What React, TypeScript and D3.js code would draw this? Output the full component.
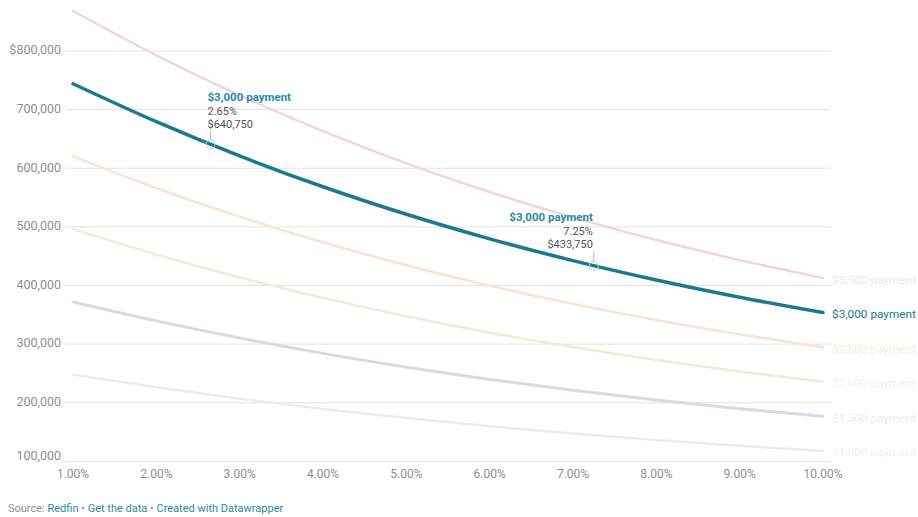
import React from "react";
import * as d3 from "d3";

const rates = [1, 2, 3, 4, 5, 6, 7, 8, 9, 10];
const pay1000 = [248060, 226490, 206990, 189480, 173830, 159880, 147480, 136450, 126660, 117940];
const pay1500 = [372090, 339735, 310485, 284220, 260745, 239820, 221220, 204675, 189990, 176910];
const pay2000 = [496120, 452980, 413980, 378960, 347660, 319760, 294960, 272900, 253320, 235880];
const pay2500 = [620150, 566225, 517475, 473700, 434575, 399700, 368700, 341125, 316650, 294850];
const pay3000 = [744180, 679470, 620970, 568440, 521490, 479640, 442440, 409350, 379980, 353820];
const pay3500 = [868210, 792715, 724465, 663180, 608405, 559580, 516180, 477575, 443310, 412790];

const seriesNames = ["$1,000 payment", "$1,500 payment", "$2,000 payment", "$2,500 payment", "$3,000 payment", "$3,500 payment"];
const yTicks = [100000, 200000, 300000, 400000, 500000, 600000, 700000, 800000];
const xTicks = [1, 2, 3, 4, 5, 6, 7, 8, 9, 10];

const annotations = [
  { rate: 2.65, value: 640750, title: "$3,000 payment", align: "start" },
  { rate: 7.25, value: 433750, title: "$3,000 payment", align: "end" },
];

const series = [
  { name: seriesNames[0], values: pay1000, color: "#ededf0", text: "#f1f1f3", w: 2.5 },
  { name: seriesNames[1], values: pay1500, color: "#dadae6", text: "#ebebf1", w: 3 },
  { name: seriesNames[2], values: pay2000, color: "#e6f0dc", text: "#f1f4e8", w: 2.5 },
  { name: seriesNames[3], values: pay2500, color: "#fce2d4", text: "#fbe9df", w: 2.5 },
  { name: seriesNames[5], values: pay3500, color: "#f3d5d9", text: "#f6e3e5", w: 2.5 },
  { name: seriesNames[4], values: pay3000, color: "#1b7a8f", text: "#1b7a8f", w: 3.5 },
];

const FONT = "Roboto, 'Noto Sans', sans-serif";

export default function App() {
  const x = d3.scaleLinear().domain([1, 10]).range([73, 823]);
  const y = d3.scaleLinear().domain([100000, 800000]).range([461.4, 51]);
  const line = d3
    .line<number>()
    .x((_, i) => x(rates[i]))
    .y((d) => y(d))
    .curve(d3.curveMonotoneX);
  const fmt = d3.format(",");

  return (
    <svg
      width={918}
      height={517}
      style={{ position: "absolute", left: 0, top: 0, background: "#fff", fontFamily: FONT }}
    >
      {yTicks.map((t, i) => (
        <g key={t}>
          <line x1={65} x2={831} y1={y(t)} y2={y(t)} stroke="#e3e3e3" strokeWidth={1} />
          <text
            x={61}
            y={y(t) + (t === 100000 ? -5 : 0)}
            textAnchor="end"
            dominantBaseline="middle"
            fontSize={12.5}
            fill="#8f8f8f"
          >
            {(i === yTicks.length - 1 ? "$" : "") + fmt(t)}
          </text>
        </g>
      ))}
      {xTicks.map((t) => (
        <text key={t} x={x(t)} y={477.5} textAnchor="middle" fontSize={12} fill="#8f8f8f">
          {d3.format(".2f")(t) + "%"}
        </text>
      ))}
      {series.map((s) => (
        <g key={s.name}>
          <path d={line(s.values) || ""} fill="none" stroke={s.color} strokeWidth={s.w} strokeLinecap="round" />
          <text
            x={832}
            y={y(s.values[s.values.length - 1]) + 2.5}
            dominantBaseline="middle"
            fontSize={11.8}
            fill={s.text}
          >
            {s.name}
          </text>
        </g>
      ))}
      {annotations.map((a, i) => {
        const px = x(a.rate);
        const py = y(a.value);
        const tx = a.align === "start" ? px - 3 : px - 1;
        const top = a.align === "start" ? 101 : 221;
        return (
          <g key={i}>
            <circle cx={px} cy={py} r={4.5} fill="none" stroke="#cccccc" strokeWidth={1} />
            <line x1={px} x2={px} y1={top + 30} y2={py - 5} stroke="#bbbbbb" strokeWidth={1} />
            <text x={tx} y={top} textAnchor={a.align} fontSize={11.5} fontWeight={700} fill="#2a8aa6">
              {a.title}
            </text>
            <text x={tx} y={top + 13.5} textAnchor={a.align} fontSize={11} fill="#555">
              {d3.format(".2f")(a.rate) + "%"}
            </text>
            <text x={tx} y={top + 27} textAnchor={a.align} fontSize={11} fill="#555">
              {"$" + fmt(a.value)}
            </text>
          </g>
        );
      })}
      <text x={8} y={512} fontSize={11} fill="#8f8f8f">
        <tspan>Source: </tspan>
        <tspan fill="#2a8aa6">Redfin</tspan>
        <tspan> • </tspan>
        <tspan fill="#2a8aa6">Get the data</tspan>
        <tspan> • </tspan>
        <tspan fill="#2a8aa6">Created with Datawrapper</tspan>
      </text>
    </svg>
  );
}
